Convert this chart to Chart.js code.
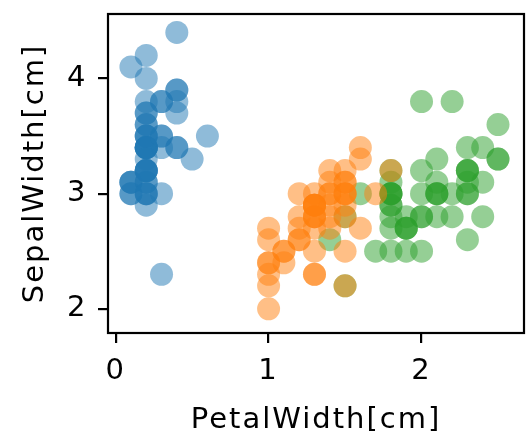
<!DOCTYPE html>
<html>
<head>
<meta charset="utf-8">
<script src="https://cdn.jsdelivr.net/npm/chart.js@4.4.0/dist/chart.umd.min.js"></script>
<style>
    html, body { margin: 0; padding: 0; background: #fff; }
    #wrap { width: 526px; height: 436px; }
</style>
</head>
<body>
<div id="wrap"><canvas id="chart_iris" width="526" height="436"></canvas></div>
<script>
// iris: petal width / sepal width per species
const setosaPetalWidth = [0.2,0.2,0.2,0.2,0.2,0.4,0.3,0.2,0.2,0.1,0.2,0.2,0.1,0.1,0.2,0.4,0.4,0.3,0.3,0.3,0.2,0.4,0.2,0.5,0.2,0.2,0.4,0.2,0.2,0.2,0.2,0.4,0.1,0.2,0.1,0.2,0.2,0.1,0.2,0.2,0.3,0.3,0.2,0.6,0.4,0.3,0.2,0.2,0.2,0.2];
const setosaSepalWidth = [3.5,3.0,3.2,3.1,3.6,3.9,3.4,3.4,2.9,3.1,3.7,3.4,3.0,3.0,4.0,4.4,3.9,3.5,3.8,3.8,3.4,3.7,3.6,3.3,3.4,3.0,3.4,3.5,3.4,3.2,3.1,3.4,4.1,4.2,3.1,3.2,3.5,3.1,3.0,3.4,3.5,2.3,3.2,3.5,3.8,3.0,3.8,3.2,3.7,3.3];

const versicolorPetalWidth = [1.4,1.5,1.5,1.3,1.5,1.3,1.6,1.0,1.3,1.4,1.0,1.5,1.0,1.4,1.3,1.4,1.5,1.0,1.5,1.1,1.8,1.3,1.5,1.2,1.3,1.4,1.4,1.7,1.5,1.0,1.1,1.0,1.2,1.6,1.5,1.6,1.5,1.3,1.3,1.3,1.2,1.4,1.2,1.0,1.3,1.2,1.3,1.3,1.1,1.3];
const versicolorSepalWidth = [3.2,3.2,3.1,2.3,2.8,2.8,3.3,2.4,2.9,2.7,2.0,3.0,2.2,2.9,2.9,3.1,3.0,2.7,2.2,2.5,3.2,2.8,2.5,2.8,2.9,3.0,2.8,3.0,2.9,2.6,2.4,2.4,2.7,2.7,3.0,3.4,3.1,2.3,3.0,2.5,2.6,3.0,2.6,2.3,2.7,3.0,2.9,2.9,2.5,2.8];

const virginicaPetalWidth = [2.5,1.9,2.1,1.8,2.2,2.1,1.7,1.8,1.8,2.5,2.0,1.9,2.1,2.0,2.4,2.3,1.8,2.2,2.3,1.5,2.3,2.0,2.0,1.8,2.1,1.8,1.8,1.8,2.1,1.6,1.9,2.0,2.2,1.5,1.4,2.3,2.4,1.8,1.8,2.1,2.4,2.3,1.9,2.3,2.5,2.3,1.9,2.0,2.3,1.8];
const virginicaSepalWidth = [3.3,2.7,3.0,2.9,3.0,3.0,2.5,2.9,2.5,3.6,3.2,2.7,3.0,2.5,2.8,3.2,3.0,3.8,2.6,2.2,3.2,2.8,2.8,2.7,3.3,3.2,2.8,3.0,2.8,3.0,2.8,3.8,2.8,2.8,2.6,3.0,3.4,3.1,3.0,3.1,3.1,3.1,2.7,3.2,3.3,3.0,2.5,3.0,3.4,3.0];

const xTicks = [0, 1, 2];
const yTicks = [2, 3, 4];

function toPoints(xs, ys){
    let pts = [];
    for(let i = 0; i < xs.length; i++){
        pts.push({x: xs[i], y: ys[i]});
    }
    return pts;
}

// reference text is set a bit wide, spread the letters a little
const spacingPlugin = {
    id: 'spacing',
    beforeUpdate(chart){ chart.ctx.letterSpacing = '2px'; },
    beforeDraw(chart){ chart.ctx.letterSpacing = '2px'; }
};

// frame around the plot area (matplotlib spines)
const framePlugin = {
    id: 'frame',
    afterDraw(chart){
        const a = chart.chartArea;
        const ctx = chart.ctx;
        ctx.save();
        ctx.strokeStyle = '#000';
        ctx.lineWidth = 2.2;
        ctx.strokeRect(a.left, a.top, a.right - a.left, a.bottom - a.top);
        ctx.restore();
    }
};

function noScalePadding(scale){
    scale.paddingTop = 0;
    scale.paddingBottom = 0;
    scale.paddingLeft = 0;
    scale.paddingRight = 0;
}

const tickFont = {family: 'DejaVu Sans', size: 29};
const xTitleFont = {family: 'DejaVu Sans', size: 29, lineHeight: 1.0};

new Chart(document.getElementById('chart_iris'), {
    type: 'scatter',
    data: {
        datasets: [
            {label: 'setosa', data: toPoints(setosaPetalWidth, setosaSepalWidth), backgroundColor: 'rgba(31,119,180,0.5)'},
            {label: 'versicolor', data: toPoints(versicolorPetalWidth, versicolorSepalWidth), backgroundColor: 'rgba(255,127,14,0.5)'},
            {label: 'virginica', data: toPoints(virginicaPetalWidth, virginicaSepalWidth), backgroundColor: 'rgba(44,160,44,0.5)'}
        ]
    },
    options: {
        responsive: false,
        animation: false,
        devicePixelRatio: 1,
        layout: {autoPadding: false, padding: {left: 0, right: 2, top: 14, bottom: 0}},
        elements: {point: {radius: 11.5, hoverRadius: 11.5, borderWidth: 0}},
        datasets: {scatter: {clip: false}},
        plugins: {legend: {display: false}, tooltip: {enabled: false}},
        scales: {
            x: {
                type: 'linear',
                min: -0.05,
                max: 2.67,
                afterBuildTicks: function(scale){ scale.ticks = xTicks.map(v => ({value: v})); },
                afterFit: function(scale){ scale.height = 103; noScalePadding(scale); },
                border: {display: false},
                grid: {drawOnChartArea: false, drawTicks: true, tickLength: 10, lineWidth: 2.2, color: '#000'},
                ticks: {color: '#000', font: tickFont, padding: 11, maxRotation: 0},
                title: {display: true, text: 'PetalWidth[cm]', color: '#000', font: xTitleFont, padding: {top: 0, bottom: 1}}
            },
            y: {
                type: 'linear',
                min: 1.79,
                max: 4.56,
                afterBuildTicks: function(scale){ scale.ticks = yTicks.map(v => ({value: v})); },
                afterFit: function(scale){ scale.width = 108; noScalePadding(scale); },
                border: {display: false},
                grid: {drawOnChartArea: false, drawTicks: true, tickLength: 10, lineWidth: 2.2, color: '#000'},
                ticks: {color: '#000', font: tickFont, padding: 10.5},
                title: {display: true, text: 'SepalWidth[cm]', color: '#000', font: tickFont, padding: {top: 18, bottom: 0}}
            }
        }
    },
    plugins: [spacingPlugin, framePlugin]
});
</script>
</body>
</html>
